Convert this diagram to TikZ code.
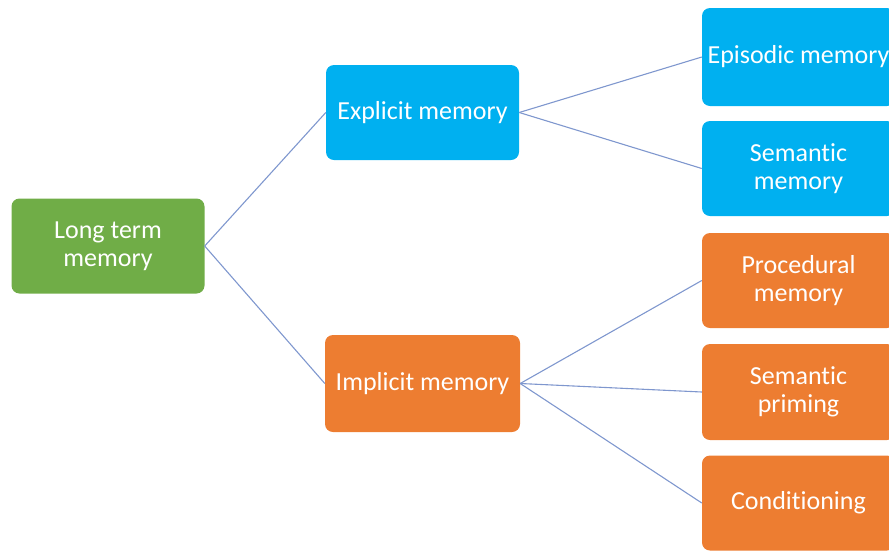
\documentclass[tikz,border=0pt]{standalone}
\usepackage{fontspec}
\setmainfont{Carlito}[Ligatures={NoCommon}]
\definecolor{boxgreen}{HTML}{70AD47}
\definecolor{boxblue}{HTML}{00B0F0}
\definecolor{boxorange}{HTML}{ED7D31}
\definecolor{linkcol}{HTML}{7F97CE}
\begin{document}
\begin{tikzpicture}[x=1pt,y=-1pt,
  box/.style={rounded corners=8pt, minimum width=193pt, minimum height=95pt,
    text=white, align=center, inner sep=2pt,
    font=\fontsize{26}{28}\selectfont},
  green box/.style={box, fill=boxgreen},
  blue box/.style={box, fill=boxblue},
  orange box/.style={box, fill=boxorange},
  link/.style={draw=linkcol, line width=1.1pt}]
\useasboundingbox (0,0) rectangle (889,550);
\clip (0,0) rectangle (889,550);
% root
\node[green box, minimum height=95pt] (ltm) at (108,246) {Long term\\memory};
% second level
\node[blue box] (exp) at (422.5,112.5) {Explicit memory};
\node[orange box, minimum width=195pt, minimum height=97pt] (imp) at (422.5,383.5) {Implicit memory};
% leaves
\node[blue box, minimum height=98pt] (epi) at (798.5,57) {Episodic memory};
\node[blue box] (sem) at (798.5,168.5) {Semantic\\memory};
\node[orange box] (pro) at (798.5,280.5) {Procedural\\memory};
\node[orange box, minimum height=96pt] (pri) at (798.5,392) {Semantic\\priming};
\node[orange box] (con) at (798.5,503) {Conditioning};
% connectors
\draw[link] (ltm.east) -- (exp.west);
\draw[link] (ltm.east) -- (imp.west);
\draw[link] (exp.east) -- (epi.west);
\draw[link] (exp.east) -- (sem.west);
\draw[link] (imp.east) -- (pro.west);
\draw[link] (imp.east) -- (pri.west);
\draw[link] (imp.east) -- (con.west);
\end{tikzpicture}
\end{document}
